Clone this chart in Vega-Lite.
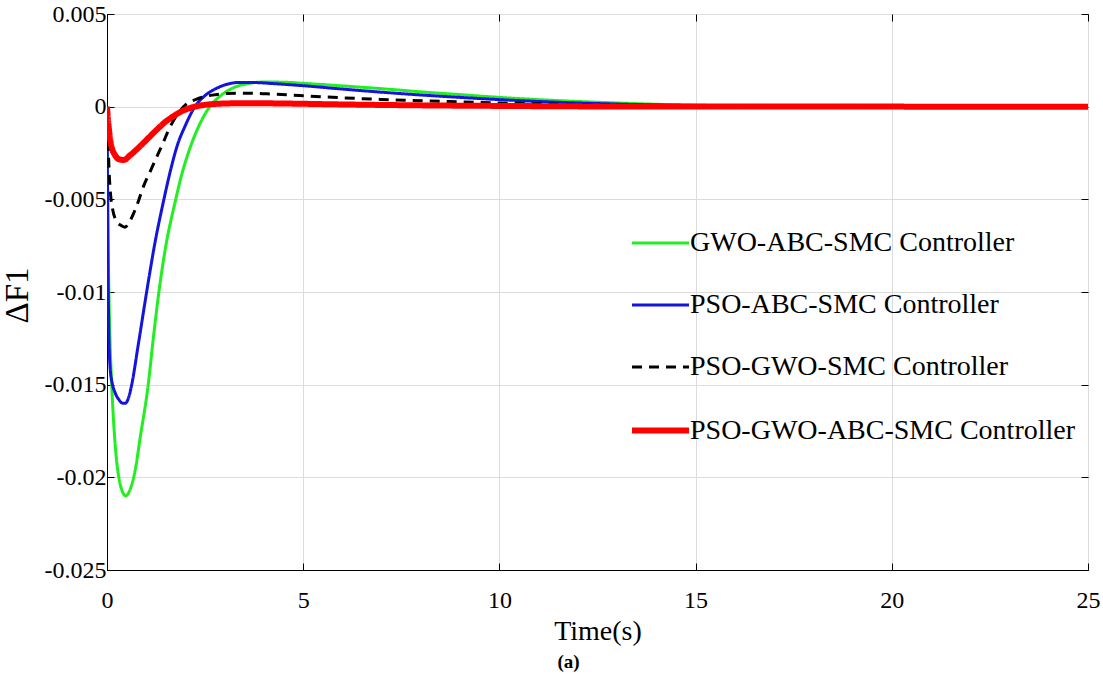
{
  "$schema": "https://vega.github.io/schema/vega-lite/v6.json",
  "width": 981,
  "height": 556,
  "autosize": "none",
  "padding": {"left": 107, "top": 14, "right": 15, "bottom": 109},
  "background": "white",
  "title": {"text": "(a)", "orient": "bottom", "anchor": "middle", "dx": -29, "offset": 8, "font": "Liberation Serif", "fontSize": 19, "fontWeight": "bold", "color": "black"},
  "config": {
    "font": "Liberation Serif",
    "view": {"stroke": "black", "strokeWidth": 1}
  },
  "datasets": {
    "curves": [
      {"s": "GWO-ABC-SMC Controller", "t": 0, "v": 0},
      {"s": "GWO-ABC-SMC Controller", "t": 0.015, "v": -0.004},
      {"s": "GWO-ABC-SMC Controller", "t": 0.03, "v": -0.0075},
      {"s": "GWO-ABC-SMC Controller", "t": 0.05, "v": -0.0102},
      {"s": "GWO-ABC-SMC Controller", "t": 0.08, "v": -0.0128},
      {"s": "GWO-ABC-SMC Controller", "t": 0.12, "v": -0.015},
      {"s": "GWO-ABC-SMC Controller", "t": 0.16, "v": -0.0167},
      {"s": "GWO-ABC-SMC Controller", "t": 0.2, "v": -0.018},
      {"s": "GWO-ABC-SMC Controller", "t": 0.25, "v": -0.0192},
      {"s": "GWO-ABC-SMC Controller", "t": 0.31, "v": -0.0201},
      {"s": "GWO-ABC-SMC Controller", "t": 0.38, "v": -0.0207},
      {"s": "GWO-ABC-SMC Controller", "t": 0.48, "v": -0.021},
      {"s": "GWO-ABC-SMC Controller", "t": 0.58, "v": -0.0207},
      {"s": "GWO-ABC-SMC Controller", "t": 0.71, "v": -0.0197},
      {"s": "GWO-ABC-SMC Controller", "t": 0.85, "v": -0.0178},
      {"s": "GWO-ABC-SMC Controller", "t": 1.05, "v": -0.015},
      {"s": "GWO-ABC-SMC Controller", "t": 1.18, "v": -0.0125},
      {"s": "GWO-ABC-SMC Controller", "t": 1.31, "v": -0.0102},
      {"s": "GWO-ABC-SMC Controller", "t": 1.5, "v": -0.0075},
      {"s": "GWO-ABC-SMC Controller", "t": 1.73, "v": -0.0052},
      {"s": "GWO-ABC-SMC Controller", "t": 1.9, "v": -0.0037},
      {"s": "GWO-ABC-SMC Controller", "t": 2.12, "v": -0.0022},
      {"s": "GWO-ABC-SMC Controller", "t": 2.35, "v": -0.001},
      {"s": "GWO-ABC-SMC Controller", "t": 2.62, "v": 0},
      {"s": "GWO-ABC-SMC Controller", "t": 2.9, "v": 0.0006},
      {"s": "GWO-ABC-SMC Controller", "t": 3.2, "v": 0.001},
      {"s": "GWO-ABC-SMC Controller", "t": 3.6, "v": 0.00125},
      {"s": "GWO-ABC-SMC Controller", "t": 4.0, "v": 0.00133},
      {"s": "GWO-ABC-SMC Controller", "t": 4.5, "v": 0.00132},
      {"s": "GWO-ABC-SMC Controller", "t": 5, "v": 0.00126},
      {"s": "GWO-ABC-SMC Controller", "t": 6, "v": 0.00112},
      {"s": "GWO-ABC-SMC Controller", "t": 7, "v": 0.00097},
      {"s": "GWO-ABC-SMC Controller", "t": 8, "v": 0.0008},
      {"s": "GWO-ABC-SMC Controller", "t": 9, "v": 0.00065},
      {"s": "GWO-ABC-SMC Controller", "t": 10, "v": 0.0005},
      {"s": "GWO-ABC-SMC Controller", "t": 11, "v": 0.00038},
      {"s": "GWO-ABC-SMC Controller", "t": 12, "v": 0.00028},
      {"s": "GWO-ABC-SMC Controller", "t": 13, "v": 0.0002},
      {"s": "GWO-ABC-SMC Controller", "t": 14, "v": 0.00013},
      {"s": "GWO-ABC-SMC Controller", "t": 15, "v": 0.00008},
      {"s": "GWO-ABC-SMC Controller", "t": 16, "v": 0.00005},
      {"s": "GWO-ABC-SMC Controller", "t": 18, "v": 0.00002},
      {"s": "GWO-ABC-SMC Controller", "t": 20, "v": 0.00001},
      {"s": "GWO-ABC-SMC Controller", "t": 25, "v": 0},

      {"s": "PSO-ABC-SMC Controller", "t": 0, "v": 0},
      {"s": "PSO-ABC-SMC Controller", "t": 0.015, "v": -0.005},
      {"s": "PSO-ABC-SMC Controller", "t": 0.03, "v": -0.0095},
      {"s": "PSO-ABC-SMC Controller", "t": 0.05, "v": -0.0125},
      {"s": "PSO-ABC-SMC Controller", "t": 0.08, "v": -0.0141},
      {"s": "PSO-ABC-SMC Controller", "t": 0.13, "v": -0.0149},
      {"s": "PSO-ABC-SMC Controller", "t": 0.2, "v": -0.0154},
      {"s": "PSO-ABC-SMC Controller", "t": 0.3, "v": -0.0158},
      {"s": "PSO-ABC-SMC Controller", "t": 0.4, "v": -0.016},
      {"s": "PSO-ABC-SMC Controller", "t": 0.47, "v": -0.016},
      {"s": "PSO-ABC-SMC Controller", "t": 0.55, "v": -0.0157},
      {"s": "PSO-ABC-SMC Controller", "t": 0.63, "v": -0.015},
      {"s": "PSO-ABC-SMC Controller", "t": 0.8, "v": -0.0128},
      {"s": "PSO-ABC-SMC Controller", "t": 1.01, "v": -0.01},
      {"s": "PSO-ABC-SMC Controller", "t": 1.2, "v": -0.0076},
      {"s": "PSO-ABC-SMC Controller", "t": 1.45, "v": -0.005},
      {"s": "PSO-ABC-SMC Controller", "t": 1.6, "v": -0.0036},
      {"s": "PSO-ABC-SMC Controller", "t": 1.79, "v": -0.0021},
      {"s": "PSO-ABC-SMC Controller", "t": 2.0, "v": -0.001},
      {"s": "PSO-ABC-SMC Controller", "t": 2.24, "v": 0},
      {"s": "PSO-ABC-SMC Controller", "t": 2.5, "v": 0.0006},
      {"s": "PSO-ABC-SMC Controller", "t": 2.8, "v": 0.001},
      {"s": "PSO-ABC-SMC Controller", "t": 3.1, "v": 0.00123},
      {"s": "PSO-ABC-SMC Controller", "t": 3.4, "v": 0.00131},
      {"s": "PSO-ABC-SMC Controller", "t": 3.8, "v": 0.0013},
      {"s": "PSO-ABC-SMC Controller", "t": 4.2, "v": 0.00125},
      {"s": "PSO-ABC-SMC Controller", "t": 5, "v": 0.00113},
      {"s": "PSO-ABC-SMC Controller", "t": 6, "v": 0.00095},
      {"s": "PSO-ABC-SMC Controller", "t": 7, "v": 0.00078},
      {"s": "PSO-ABC-SMC Controller", "t": 8, "v": 0.00063},
      {"s": "PSO-ABC-SMC Controller", "t": 9, "v": 0.0005},
      {"s": "PSO-ABC-SMC Controller", "t": 10, "v": 0.00038},
      {"s": "PSO-ABC-SMC Controller", "t": 11, "v": 0.00028},
      {"s": "PSO-ABC-SMC Controller", "t": 12, "v": 0.0002},
      {"s": "PSO-ABC-SMC Controller", "t": 13, "v": 0.00014},
      {"s": "PSO-ABC-SMC Controller", "t": 14, "v": 0.00009},
      {"s": "PSO-ABC-SMC Controller", "t": 15, "v": 0.00006},
      {"s": "PSO-ABC-SMC Controller", "t": 17, "v": 0.00002},
      {"s": "PSO-ABC-SMC Controller", "t": 20, "v": 0.00001},
      {"s": "PSO-ABC-SMC Controller", "t": 25, "v": 0},

      {"s": "PSO-GWO-SMC Controller", "t": 0, "v": 0},
      {"s": "PSO-GWO-SMC Controller", "t": 0.02, "v": -0.0012},
      {"s": "PSO-GWO-SMC Controller", "t": 0.05, "v": -0.0033},
      {"s": "PSO-GWO-SMC Controller", "t": 0.09, "v": -0.0047},
      {"s": "PSO-GWO-SMC Controller", "t": 0.15, "v": -0.0056},
      {"s": "PSO-GWO-SMC Controller", "t": 0.25, "v": -0.0062},
      {"s": "PSO-GWO-SMC Controller", "t": 0.35, "v": -0.0064},
      {"s": "PSO-GWO-SMC Controller", "t": 0.46, "v": -0.0065},
      {"s": "PSO-GWO-SMC Controller", "t": 0.55, "v": -0.0063},
      {"s": "PSO-GWO-SMC Controller", "t": 0.67, "v": -0.0058},
      {"s": "PSO-GWO-SMC Controller", "t": 0.8, "v": -0.0051},
      {"s": "PSO-GWO-SMC Controller", "t": 0.93, "v": -0.0043},
      {"s": "PSO-GWO-SMC Controller", "t": 1.1, "v": -0.0035},
      {"s": "PSO-GWO-SMC Controller", "t": 1.27, "v": -0.0027},
      {"s": "PSO-GWO-SMC Controller", "t": 1.42, "v": -0.002},
      {"s": "PSO-GWO-SMC Controller", "t": 1.56, "v": -0.0013},
      {"s": "PSO-GWO-SMC Controller", "t": 1.8, "v": -0.0004},
      {"s": "PSO-GWO-SMC Controller", "t": 2.0, "v": 0.0001},
      {"s": "PSO-GWO-SMC Controller", "t": 2.3, "v": 0.00042},
      {"s": "PSO-GWO-SMC Controller", "t": 2.8, "v": 0.00066},
      {"s": "PSO-GWO-SMC Controller", "t": 3.3, "v": 0.00073},
      {"s": "PSO-GWO-SMC Controller", "t": 3.8, "v": 0.00072},
      {"s": "PSO-GWO-SMC Controller", "t": 4.2, "v": 0.00068},
      {"s": "PSO-GWO-SMC Controller", "t": 4.9, "v": 0.0006},
      {"s": "PSO-GWO-SMC Controller", "t": 6, "v": 0.00048},
      {"s": "PSO-GWO-SMC Controller", "t": 7, "v": 0.00039},
      {"s": "PSO-GWO-SMC Controller", "t": 8.7, "v": 0.00028},
      {"s": "PSO-GWO-SMC Controller", "t": 10, "v": 0.0002},
      {"s": "PSO-GWO-SMC Controller", "t": 12, "v": 0.00012},
      {"s": "PSO-GWO-SMC Controller", "t": 15, "v": 0.00005},
      {"s": "PSO-GWO-SMC Controller", "t": 18, "v": 0.00002},
      {"s": "PSO-GWO-SMC Controller", "t": 25, "v": 0},

      {"s": "PSO-GWO-ABC-SMC Controller", "t": 0, "v": 0},
      {"s": "PSO-GWO-ABC-SMC Controller", "t": 0.03, "v": -0.0008},
      {"s": "PSO-GWO-ABC-SMC Controller", "t": 0.07, "v": -0.0016},
      {"s": "PSO-GWO-ABC-SMC Controller", "t": 0.12, "v": -0.0022},
      {"s": "PSO-GWO-ABC-SMC Controller", "t": 0.2, "v": -0.0026},
      {"s": "PSO-GWO-ABC-SMC Controller", "t": 0.3, "v": -0.00283},
      {"s": "PSO-GWO-ABC-SMC Controller", "t": 0.42, "v": -0.00288},
      {"s": "PSO-GWO-ABC-SMC Controller", "t": 0.6, "v": -0.0026},
      {"s": "PSO-GWO-ABC-SMC Controller", "t": 0.84, "v": -0.00214},
      {"s": "PSO-GWO-ABC-SMC Controller", "t": 1.05, "v": -0.0017},
      {"s": "PSO-GWO-ABC-SMC Controller", "t": 1.27, "v": -0.00124},
      {"s": "PSO-GWO-ABC-SMC Controller", "t": 1.5, "v": -0.0008},
      {"s": "PSO-GWO-ABC-SMC Controller", "t": 1.69, "v": -0.00052},
      {"s": "PSO-GWO-ABC-SMC Controller", "t": 1.9, "v": -0.00025},
      {"s": "PSO-GWO-ABC-SMC Controller", "t": 2.12, "v": -0.00007},
      {"s": "PSO-GWO-ABC-SMC Controller", "t": 2.5, "v": 0.0001},
      {"s": "PSO-GWO-ABC-SMC Controller", "t": 3.0, "v": 0.00017},
      {"s": "PSO-GWO-ABC-SMC Controller", "t": 3.6, "v": 0.00019},
      {"s": "PSO-GWO-ABC-SMC Controller", "t": 4.5, "v": 0.00017},
      {"s": "PSO-GWO-ABC-SMC Controller", "t": 6, "v": 0.00012},
      {"s": "PSO-GWO-ABC-SMC Controller", "t": 8, "v": 0.00007},
      {"s": "PSO-GWO-ABC-SMC Controller", "t": 10, "v": 0.00004},
      {"s": "PSO-GWO-ABC-SMC Controller", "t": 13, "v": 0.00001},
      {"s": "PSO-GWO-ABC-SMC Controller", "t": 25, "v": 0}
    ]
  },
  "data": {"name": "curves"},
  "layer": [
    {
      "mark": {"type": "line", "interpolate": "monotone", "clip": true},
      "encoding": {
        "x": {
          "field": "t", "type": "quantitative",
          "scale": {"domain": [0, 25], "nice": false, "zero": false},
          "axis": {
            "orient": "bottom", "title": "Time(s)", "values": [0, 5, 10, 15, 20, 25],
            "labelFont": "Liberation Serif", "labelFontSize": 24, "labelColor": "black", "labelPadding": 25,
            "labelFlush": false,
            "titleFont": "Liberation Serif", "titleFontSize": 28, "titleFontWeight": "normal", "titleColor": "black", "titlePadding": 5,
            "grid": true, "gridColor": "#dcdcdc", "gridWidth": 1,
            "tickSize": -7, "tickColor": "black", "domainColor": "black"
          }
        },
        "y": {
          "field": "v", "type": "quantitative",
          "scale": {"domain": [-0.025, 0.005], "nice": false, "zero": false},
          "axis": {
            "orient": "left", "title": "ΔF1", "values": [0.005, 0, -0.005, -0.01, -0.015, -0.02, -0.025],
            "labelExpr": "'' + datum.value",
            "labelFont": "Liberation Serif", "labelFontSize": 24, "labelColor": "black", "labelPadding": 8,
            "labelFlush": false,
            "titleFont": "Liberation Serif", "titleFontSize": 33, "titleFontWeight": "normal", "titleColor": "black",
            "titleX": -73, "titleY": 281,
            "grid": true, "gridColor": "#dcdcdc", "gridWidth": 1,
            "tickSize": -7, "tickColor": "black", "domainColor": "black"
          }
        },
        "color": {
          "field": "s", "type": "ordinal",
          "scale": {
            "type": "ordinal",
            "domain": ["GWO-ABC-SMC Controller", "PSO-ABC-SMC Controller", "PSO-GWO-SMC Controller", "PSO-GWO-ABC-SMC Controller"],
            "range": ["#22ee22", "#1414dc", "#000000", "#ff0000"]
          },
          "legend": {
            "title": null, "orient": "none", "legendX": 522, "legendY": 199,
            "symbolType": "stroke", "symbolSize": 3249, "labelFont": "Liberation Serif", "labelFontSize": 28,
            "labelColor": "black", "labelOffset": -2, "rowPadding": 18, "labelLimit": 600
          }
        },
        "strokeDash": {
          "field": "s", "type": "ordinal",
          "scale": {
            "type": "ordinal",
            "domain": ["GWO-ABC-SMC Controller", "PSO-ABC-SMC Controller", "PSO-GWO-SMC Controller", "PSO-GWO-ABC-SMC Controller"],
            "range": [[1, 0], [1, 0], [10, 7], [1, 0]]
          },
          "legend": {
            "title": null, "orient": "none", "legendX": 522, "legendY": 199,
            "symbolType": "stroke", "symbolSize": 3249, "labelFont": "Liberation Serif", "labelFontSize": 28,
            "labelColor": "black", "labelOffset": -2, "rowPadding": 18, "labelLimit": 600
          }
        },
        "strokeWidth": {
          "field": "s", "type": "ordinal",
          "scale": {
            "type": "ordinal",
            "domain": ["GWO-ABC-SMC Controller", "PSO-ABC-SMC Controller", "PSO-GWO-SMC Controller", "PSO-GWO-ABC-SMC Controller"],
            "range": [3, 3, 3, 6]
          },
          "legend": {
            "title": null, "orient": "none", "legendX": 522, "legendY": 199,
            "symbolType": "stroke", "symbolSize": 3249, "labelFont": "Liberation Serif", "labelFontSize": 28,
            "labelColor": "black", "labelOffset": -2, "rowPadding": 18, "labelLimit": 600
          }
        }
      }
    },
    {
      "mark": {"type": "line", "opacity": 0},
      "encoding": {
        "x": {
          "field": "t", "type": "quantitative",
          "axis": {"orient": "top", "title": null, "labels": false, "grid": false, "domain": false, "values": [0, 5, 10, 15, 20, 25], "tickSize": -7, "tickColor": "black"}
        },
        "y": {
          "field": "v", "type": "quantitative",
          "axis": {"orient": "right", "title": null, "labels": false, "grid": false, "domain": false, "values": [0.005, 0, -0.005, -0.01, -0.015, -0.02, -0.025], "tickSize": -7, "tickColor": "black"}
        }
      }
    }
  ],
  "resolve": {"axis": {"x": "independent", "y": "independent"}}
}
